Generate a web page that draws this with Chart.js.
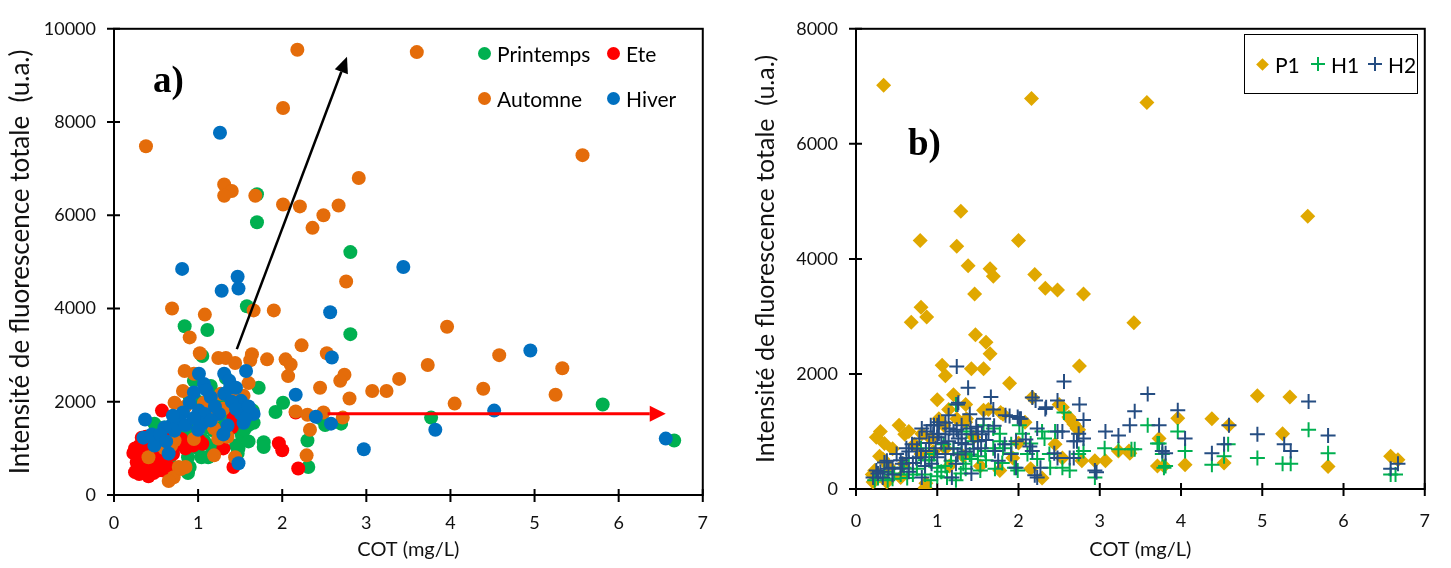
<!DOCTYPE html>
<html>
<head>
<meta charset="utf-8">
<script src="https://cdn.jsdelivr.net/npm/chart.js@4/dist/chart.umd.min.js"></script>
<style>
  body { margin: 0; background: #fff; width: 1451px; height: 568px; position: relative; overflow: hidden; font-family: Lato, sans-serif; }
  canvas { position: absolute; top: 0; }
  #chart-a { left: 0; }
  #chart-b { left: 735px; }
  .tag { position: absolute; font-family: "Liberation Serif", serif; font-weight: bold; font-size: 37px; line-height: 1; color: #000; }
  .item { position: absolute; display: flex; align-items: center; height: 24px; font-size: 21px; color: #000; white-space: nowrap; }
  .dot { width: 13px; height: 13px; border-radius: 50%; margin-right: 6px; }
  .diam { width: 9px; height: 9px; transform: rotate(45deg); margin: 0 8px 0 2px; background: #E0A800; }
  .box { position: absolute; left: 1244px; top: 34px; width: 172px; height: 58px; border: 1.5px solid #000; }
</style>
</head>
<body>
<canvas id="chart-a" width="725" height="568"></canvas>
<canvas id="chart-b" width="716" height="568"></canvas>

<div class="tag" style="left:153px; top:61px;">a)</div>
<div class="tag" style="left:908px; top:124px;">b)</div>

<div class="item" style="left:478px; top:41px;"><span class="dot" style="background:#00B050"></span>Printemps</div>
<div class="item" style="left:607px; top:41px;"><span class="dot" style="background:#FF0000"></span>Ete</div>
<div class="item" style="left:478px; top:86px;"><span class="dot" style="background:#E46C0A"></span>Automne</div>
<div class="item" style="left:607px; top:86px;"><span class="dot" style="background:#0070C0"></span>Hiver</div>

<div class="box"></div>
<div class="item" style="left:1256px; top:52px;"><span class="diam"></span>P1</div>
<div class="item" style="left:1311px; top:52px;"><svg width="14" height="14" style="margin-right:6px"><path d="M7 0V14M0 7H14" stroke="#00B050" stroke-width="2"/></svg>H1</div>
<div class="item" style="left:1368px; top:52px;"><svg width="14" height="14" style="margin-right:6px"><path d="M7 0V14M0 7H14" stroke="#254D82" stroke-width="2"/></svg>H2</div>

<script>
// ---- panel a : saisons ----
const printemps = [[1.70,6450],[1.70,5850],[2.81,5210],[1.58,4050],[0.84,3620],[1.11,3540],[2.81,3450],[1.05,2980],[1.72,2300],[2.01,1980],[1.92,1780],[2.51,1500],[2.70,1530],[2.30,1170],[2.31,600],[1.78,1130],[1.78,1030],[1.48,1000],[1.52,1280],[3.77,1660],[5.81,1940],[6.66,1170],[0.95,2450],[1.15,2340],[1.33,2510],[1.45,1060],[1.47,890],[1.47,1430],[1.66,1550],[0.95,1600],[0.77,1670],[0.60,1450],[0.57,1380],[0.86,1170],[0.88,810],[0.88,470],[1.04,810],[1.07,1170],[1.12,810],[1.18,1380],[1.27,1600],[1.35,1810],[1.19,1960],[1.54,1960],[1.65,1810],[0.77,1100],[0.48,1530],[0.66,680],[2.45,1650],[1.00,2000],[1.25,1150],[0.70,1300],[0.80,1350],[0.95,1300],[1.10,1450],[1.25,1400],[1.40,1650],[1.30,2050],[1.55,1400],[0.70,900],[1.00,1000],[1.60,1150],[0.90,2100],[1.20,2150],[1.15,1050],[0.90,600],[1.60,1500]];
const ete = [[0.57,1810],[0.37,1000],[0.25,490],[0.36,470],[0.49,680],[0.60,810],[0.33,1230],[0.43,750],[0.54,530],[0.74,1100],[0.94,1060],[1.01,1170],[1.30,1000],[1.42,1660],[1.42,600],[1.96,1110],[2.00,960],[2.19,570],[0.23,900],[0.30,700],[0.40,560],[0.45,900],[0.52,1100],[0.62,1000],[0.70,880],[0.30,1050],[0.28,600],[0.33,800],[0.50,620],[0.65,600],[1.52,1790],[1.40,1450],[2.16,1770],[0.38,1250],[0.55,950],[0.42,1100],[1.05,1100],[0.85,1000],[0.47,470],[0.27,700],[0.35,600],[0.45,620],[0.58,730],[0.38,850],[0.50,800],[0.25,1000],[0.65,1200],[0.80,1200],[0.30,450],[0.60,520],[0.41,400]];
const automne = [[0.38,7480],[2.18,9550],[3.60,9500],[2.01,8300],[5.57,7290],[2.91,6800],[1.31,6660],[1.40,6520],[1.31,6420],[1.68,6420],[2.01,6230],[2.21,6190],[2.36,5730],[2.49,6000],[2.67,6210],[2.76,4580],[0.69,4000],[1.08,3870],[1.66,3960],[1.90,3960],[0.90,3380],[2.23,3210],[1.02,3040],[1.24,2940],[1.33,2940],[1.44,2830],[1.64,3020],[1.62,2890],[1.82,2910],[2.04,2910],[2.10,2800],[2.07,2550],[2.53,3040],[2.74,2580],[2.69,2450],[2.45,2300],[2.80,2070],[3.07,2230],[3.24,2230],[3.39,2490],[3.73,2790],[3.96,3610],[4.05,1960],[4.39,2280],[4.58,3000],[5.25,2150],[5.33,2720],[2.16,1790],[2.49,1770],[2.72,1660],[2.33,1400],[2.29,850],[1.44,810],[0.95,2600],[0.82,2230],[0.72,1980],[1.07,1980],[1.15,1960],[1.27,2170],[1.42,2190],[1.54,2130],[1.04,1640],[1.15,1530],[1.19,1430],[1.24,1210],[0.41,810],[0.72,1170],[0.68,1060],[0.77,600],[0.71,380],[1.19,850],[0.84,2660],[0.65,300],[0.80,560],[1.55,1650],[2.30,1720],[0.85,1900],[1.30,1850],[1.50,1900],[1.20,1700],[0.95,1200],[1.35,1250],[0.60,1000],[0.85,600],[1.60,2400]];
const hiver = [[1.26,7770],[0.81,4850],[1.47,4680],[1.48,4430],[1.28,4380],[2.57,3920],[3.44,4890],[2.59,2950],[1.57,2660],[2.16,2150],[2.40,1680],[2.58,1530],[2.97,980],[1.48,680],[1.66,1740],[4.95,3100],[3.82,1400],[4.52,1810],[6.56,1210],[1.01,2600],[1.07,2380],[1.31,2600],[1.37,2450],[0.90,1980],[1.31,2170],[1.51,2020],[1.01,1810],[1.06,1670],[0.82,1770],[0.77,1600],[0.68,1490],[0.72,1380],[0.37,1620],[0.35,1230],[0.53,1210],[0.48,1060],[0.65,890],[1.25,1740],[1.35,1490],[1.51,1740],[1.54,1550],[1.08,1740],[1.05,1530],[0.60,1450],[1.56,1650],[0.45,1300],[0.95,2200],[1.15,2100],[1.20,1900],[1.40,2000],[1.45,1850],[0.70,1700],[0.85,1500],[1.00,1400],[1.15,1600],[1.30,1300],[0.55,1300],[0.62,1150],[1.38,2300],[1.60,1900],[1.10,2250],[0.95,1650],[1.45,2300]];
const arrowUp = [[1.46,3130],[2.77,9400]];
const arrowRight = [[2.54,1745],[6.56,1745]];

// ---- panel b : composantes ----
const p1 = [[0.34,7020],[2.16,6790],[3.58,6720],[5.56,4740],[1.29,4830],[0.79,4320],[1.24,4220],[2.00,4320],[1.38,3880],[1.65,3830],[1.69,3700],[2.20,3730],[2.33,3490],[2.48,3460],[2.80,3390],[1.46,3390],[3.42,2890],[0.80,3160],[0.87,2990],[0.68,2900],[1.47,2680],[1.60,2550],[1.65,2350],[1.06,2150],[1.10,1970],[1.42,2090],[1.57,2090],[2.75,2140],[1.89,1840],[1.00,1550],[1.20,1640],[1.35,1470],[1.14,1380],[0.53,1110],[0.35,790],[2.17,1590],[2.50,1470],[2.63,1220],[2.72,1050],[1.78,1330],[1.63,1380],[1.24,1220],[1.35,1160],[1.02,1220],[0.81,960],[2.94,490],[3.07,490],[0.85,20],[0.33,520],[0.21,120],[4.94,1620],[5.34,1600],[3.96,1230],[4.38,1220],[4.59,1110],[3.73,880],[5.25,960],[3.37,620],[3.79,400],[4.05,420],[4.53,450],[5.81,390],[6.58,570],[6.67,510],[2.54,1420],[2.62,1250],[2.68,1130],[2.74,1030],[3.71,400],[3.23,660],[3.36,660],[2.08,1160],[2.15,350],[2.29,190],[2.45,780],[2.54,540],[2.78,490],[0.29,570],[0.92,880],[1.08,1110],[1.36,1220],[1.57,1370],[1.81,1300],[0.72,780],[0.80,610],[0.23,320],[0.59,440],[0.38,120],[0.86,100],[1.32,570],[1.53,400],[1.77,320],[1.93,540],[1.10,700],[1.45,900],[2.00,800],[0.25,900],[0.30,1000],[0.45,700],[0.60,950],[0.40,400],[0.20,250],[0.55,200],[0.65,1000],[0.95,650],[1.15,400]];
const h1 = [[3.59,1110],[3.96,1000],[3.73,790],[3.39,690],[3.43,690],[4.05,660],[3.77,610],[3.81,400],[4.58,780],[4.53,570],[4.38,420],[4.94,540],[5.25,440],[5.35,440],[5.57,1030],[5.81,620],[6.64,250],[6.58,250],[2.56,1330],[2.45,1000],[3.06,710],[3.23,690],[3.71,790],[2.94,200],[3.79,370],[2.32,880],[2.38,610],[2.54,370],[2.74,610],[2.80,660],[2.01,1110],[2.05,960],[2.15,790],[1.99,320],[2.23,520],[2.39,370],[1.23,1470],[2.29,1000],[1.77,960],[1.91,780],[2.11,610],[1.59,660],[1.42,520],[1.23,150],[1.71,350],[1.95,370],[2.63,320],[0.27,190],[0.63,190],[0.75,350],[1.00,370],[1.17,490],[1.32,440],[1.50,570],[1.69,710],[1.69,1050],[1.81,710],[1.77,830],[1.20,710],[1.44,830],[0.96,610],[0.92,150],[0.47,270],[0.39,150],[0.23,150],[1.12,200],[1.29,270],[1.53,320],[0.80,710],[1.08,780],[1.36,1000],[1.57,1110],[1.91,620],[0.59,370],[0.55,250],[0.85,500],[1.05,300],[0.35,300],[0.45,180],[0.70,250],[0.85,250],[1.00,220],[1.10,400],[1.35,350],[1.40,600],[1.60,500],[1.80,450],[0.65,450],[0.90,500],[1.30,620]];
const h2 = [[3.59,1650],[3.43,1350],[3.37,1110],[3.73,1110],[3.96,1370],[4.05,880],[3.77,660],[3.81,620],[4.59,1110],[4.53,780],[4.38,620],[4.94,950],[5.27,780],[5.35,660],[5.57,1520],[5.81,930],[6.58,350],[6.67,440],[2.56,1870],[2.17,1590],[2.21,1540],[2.48,1540],[2.33,1390],[2.75,1470],[2.80,1200],[3.07,1000],[3.23,930],[2.48,1000],[2.54,1000],[2.74,960],[2.80,880],[2.68,830],[2.96,290],[2.20,240],[1.97,370],[2.44,620],[2.68,540],[2.09,860],[2.14,740],[1.99,1250],[2.03,1220],[2.23,1050],[2.17,660],[1.97,830],[1.24,2130],[1.38,1760],[1.25,1470],[1.66,1600],[1.69,1380],[1.57,1220],[1.89,1270],[2.01,1220],[2.34,1420],[0.92,1110],[1.00,1110],[1.02,960],[1.24,1030],[1.41,1050],[1.48,1080],[1.63,1000],[0.78,880],[0.69,780],[0.62,710],[0.50,610],[0.38,490],[0.25,320],[0.21,200],[0.33,200],[0.45,370],[0.57,440],[0.74,540],[0.86,660],[0.98,710],[1.14,830],[1.26,880],[1.35,780],[1.50,830],[1.71,660],[1.83,780],[0.81,200],[1.18,200],[1.42,270],[1.75,490],[1.91,610],[2.23,200],[2.27,370],[2.48,540],[2.63,540],[2.72,830],[2.94,320],[1.10,610],[0.62,540],[0.93,440],[1.23,440],[1.30,1110],[1.14,1280],[1.02,1160],[0.81,1050],[1.10,950],[1.42,950],[1.54,710],[0.87,1000],[1.26,1500],[1.84,1280],[0.96,1110],[0.35,460],[0.27,270],[1.40,1300],[1.20,1000],[0.30,300],[0.40,350],[0.45,250],[0.55,500],[0.65,650],[0.70,450],[0.80,550],[0.90,800],[1.00,900],[1.05,800],[1.15,1050],[1.20,700],[1.30,950],[1.35,650],[1.45,700],[1.55,950],[1.60,850],[1.70,1100],[0.75,700],[0.95,950],[1.10,1150],[1.30,800],[1.50,1000],[0.55,350],[0.65,300],[0.85,400],[1.00,550],[1.25,600]];

const yTitle = 'Intensité de fluorescence totale  (u.a.)';
const xTitle = 'COT (mg/L)';

Chart.defaults.font.family = 'Lato, sans-serif';
Chart.defaults.color = '#111';
Chart.defaults.animation = false;

const pts = arr => arr.map(p => ({ x: p[0], y: p[1] }));

// frame round the plot area + tick marks crossing the axes
const framePlugin = {
  id: 'frame',
  beforeDatasetsDraw(chart) {
    const { ctx, chartArea: a, scales: { x, y } } = chart;
    ctx.save();
    ctx.strokeStyle = '#000';
    ctx.lineWidth = 2;
    ctx.strokeRect(a.left, a.top, a.right - a.left, a.bottom - a.top);
    ctx.beginPath();
    x.ticks.forEach(t => { const p = x.getPixelForValue(t.value); ctx.moveTo(p, a.bottom - 6); ctx.lineTo(p, a.bottom + 7); });
    y.ticks.forEach(t => { const p = y.getPixelForValue(t.value); ctx.moveTo(a.left - 7, p); ctx.lineTo(a.left + 6, p); });
    ctx.stroke();
    ctx.restore();
  }
};

const arrowPlugin = {
  id: 'arrows',
  afterDatasetsDraw(chart, args, opts) {
    const { ctx, scales: { x, y } } = chart;
    (opts.list || []).forEach(a => {
      const x0 = x.getPixelForValue(a.pts[0][0]), y0 = y.getPixelForValue(a.pts[0][1]);
      const x1 = x.getPixelForValue(a.pts[1][0]), y1 = y.getPixelForValue(a.pts[1][1]);
      const ang = Math.atan2(y1 - y0, x1 - x0);
      const hl = 16, hw = a.head;
      const bx = x1 - hl * Math.cos(ang), by = y1 - hl * Math.sin(ang);
      ctx.save();
      ctx.strokeStyle = a.color; ctx.fillStyle = a.color; ctx.lineWidth = a.width;
      ctx.beginPath(); ctx.moveTo(x0, y0); ctx.lineTo(bx, by); ctx.stroke();
      ctx.beginPath();
      ctx.moveTo(x1, y1);
      ctx.lineTo(bx + hw * Math.sin(ang), by - hw * Math.cos(ang));
      ctx.lineTo(bx - hw * Math.sin(ang), by + hw * Math.cos(ang));
      ctx.closePath(); ctx.fill();
      ctx.restore();
    });
  }
};

function scalesFor(ymax, yw, xh, yTitlePad, xTickPad, yTitleSize) {
  return {
    x: {
      type: 'linear', min: 0, max: 7,
      ticks: { stepSize: 1, padding: xTickPad, font: { size: 18 }, callback: v => String(v) },
      grid: { display: false, drawTicks: false }, border: { display: false },
      title: { display: true, text: xTitle, font: { size: 20 }, padding: { top: 0, bottom: 6 } },
      afterFit: s => { s.height = xh; }
    },
    y: {
      type: 'linear', min: 0, max: ymax,
      ticks: { stepSize: 2000, padding: 18, font: { size: 18 }, callback: v => String(v) },
      grid: { display: false, drawTicks: false }, border: { display: false },
      title: { display: true, text: yTitle, font: { size: yTitleSize }, padding: { top: yTitlePad, bottom: 0 } },
      afterFit: s => { s.width = yw; }
    }
  };
}

new Chart(document.getElementById('chart-a'), {
  type: 'scatter',
  data: {
    datasets: [
      { label: 'Printemps', data: pts(printemps), backgroundColor: '#00B050', order: 4 },
      { label: 'Ete', data: pts(ete), backgroundColor: '#FF0000', order: 3 },
      { label: 'Automne', data: pts(automne), backgroundColor: '#E46C0A', order: 2 },
      { label: 'Hiver', data: pts(hiver), backgroundColor: '#0070C0', order: 1 }
    ]
  },
  options: {
    responsive: false,
    layout: { padding: { top: 25, right: 18, left: 0, bottom: 0 } },
    elements: { point: { radius: 7, borderWidth: 0, hoverRadius: 7 } },
    scales: scalesFor(10000, 114, 73, 5, 17, 26),
    plugins: {
      legend: { display: false }, tooltip: { enabled: false },
      arrows: { list: [
        { pts: arrowUp, color: '#000', width: 2.5, head: 7 },
        { pts: arrowRight, color: '#FF0000', width: 3, head: 8 }
      ] }
    }
  },
  plugins: [framePlugin, arrowPlugin]
});

new Chart(document.getElementById('chart-b'), {
  type: 'scatter',
  data: {
    datasets: [
      { label: 'P1', data: pts(p1), pointStyle: 'rectRot', radius: 7.5, backgroundColor: '#E0A800', borderWidth: 0, order: 3 },
      { label: 'H1', data: pts(h1), pointStyle: 'cross', radius: 7.5, borderColor: '#00B050', borderWidth: 2, order: 2 },
      { label: 'H2', data: pts(h2), pointStyle: 'cross', radius: 7.5, borderColor: '#254D82', borderWidth: 2, order: 1 }
    ]
  },
  options: {
    responsive: false,
    layout: { padding: { top: 15, right: 18, left: 0, bottom: 0 } },
    scales: scalesFor(8000, 121, 79, 16, 21, 25),
    plugins: { legend: { display: false }, tooltip: { enabled: false } }
  },
  plugins: [framePlugin]
});
</script>
</body>
</html>
